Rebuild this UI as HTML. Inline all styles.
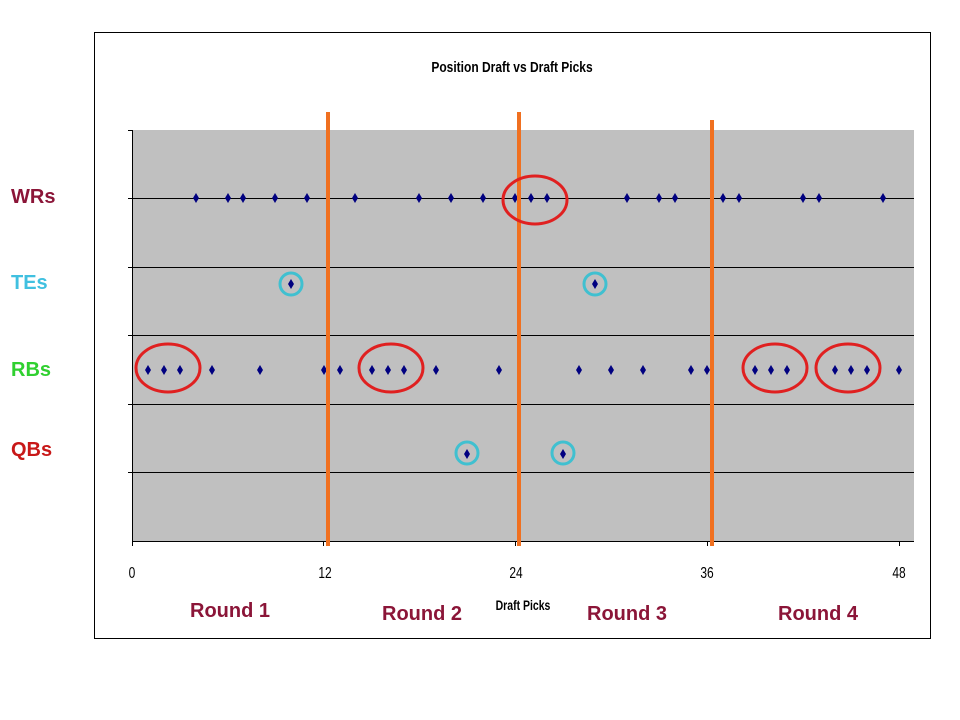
<!DOCTYPE html>
<html><head><style>body{margin:0;background:#fff}svg{display:block}</style></head><body>
<svg width="960" height="720" xmlns="http://www.w3.org/2000/svg" font-family="Liberation Sans, sans-serif">
<rect x="94.5" y="32.5" width="836" height="606" fill="#fff" stroke="#000" stroke-width="1"/>
<text x="512" y="72" text-anchor="middle" font-size="15" font-weight="bold" transform="translate(512 0) scale(0.8 1) translate(-512 0)">Position Draft vs Draft Picks</text>
<rect x="132" y="130" width="782" height="411" fill="#c0c0c0"/>
<g stroke="#000" stroke-width="1">
<line x1="132.5" y1="130" x2="132.5" y2="541"/>
<line x1="128" y1="130.5" x2="132" y2="130.5"/>
<line x1="128" y1="198.5" x2="914" y2="198.5"/>
<line x1="128" y1="267.5" x2="914" y2="267.5"/>
<line x1="128" y1="335.5" x2="914" y2="335.5"/>
<line x1="128" y1="404.5" x2="914" y2="404.5"/>
<line x1="128" y1="472.5" x2="914" y2="472.5"/>
<line x1="132" y1="541.5" x2="914" y2="541.5"/>
<line x1="132.5" y1="541" x2="132.5" y2="546"/>
<line x1="323.5" y1="541" x2="323.5" y2="546"/>
<line x1="515.5" y1="541" x2="515.5" y2="546"/>
<line x1="707.5" y1="541" x2="707.5" y2="546"/>
<line x1="899.5" y1="541" x2="899.5" y2="546"/>
</g>
<g font-size="16" text-anchor="middle">
<text transform="translate(132 578) scale(0.75 1)">0</text><text transform="translate(325 578) scale(0.75 1)">12</text><text transform="translate(516 578) scale(0.75 1)">24</text><text transform="translate(707 578) scale(0.75 1)">36</text><text transform="translate(899 578) scale(0.75 1)">48</text>
</g>
<text x="523" y="610" text-anchor="middle" font-size="14" font-weight="bold" transform="translate(523 0) scale(0.75 1) translate(-523 0)">Draft Picks</text>
<g fill="#000080">
<g transform="translate(0 198)">
<path d="M0,-5 L3,0 L0,5 L-3,0Z" transform="translate(196 0)"/>
<path d="M0,-5 L3,0 L0,5 L-3,0Z" transform="translate(228 0)"/><path d="M0,-5 L3,0 L0,5 L-3,0Z" transform="translate(243 0)"/><path d="M0,-5 L3,0 L0,5 L-3,0Z" transform="translate(275 0)"/><path d="M0,-5 L3,0 L0,5 L-3,0Z" transform="translate(307 0)"/><path d="M0,-5 L3,0 L0,5 L-3,0Z" transform="translate(355 0)"/><path d="M0,-5 L3,0 L0,5 L-3,0Z" transform="translate(419 0)"/><path d="M0,-5 L3,0 L0,5 L-3,0Z" transform="translate(451 0)"/><path d="M0,-5 L3,0 L0,5 L-3,0Z" transform="translate(483 0)"/><path d="M0,-5 L3,0 L0,5 L-3,0Z" transform="translate(515 0)"/><path d="M0,-5 L3,0 L0,5 L-3,0Z" transform="translate(531 0)"/><path d="M0,-5 L3,0 L0,5 L-3,0Z" transform="translate(547 0)"/><path d="M0,-5 L3,0 L0,5 L-3,0Z" transform="translate(627 0)"/><path d="M0,-5 L3,0 L0,5 L-3,0Z" transform="translate(659 0)"/><path d="M0,-5 L3,0 L0,5 L-3,0Z" transform="translate(675 0)"/><path d="M0,-5 L3,0 L0,5 L-3,0Z" transform="translate(723 0)"/><path d="M0,-5 L3,0 L0,5 L-3,0Z" transform="translate(739 0)"/><path d="M0,-5 L3,0 L0,5 L-3,0Z" transform="translate(803 0)"/><path d="M0,-5 L3,0 L0,5 L-3,0Z" transform="translate(819 0)"/><path d="M0,-5 L3,0 L0,5 L-3,0Z" transform="translate(883 0)"/>
</g>
<g transform="translate(0 284)">
<path d="M0,-5 L3,0 L0,5 L-3,0Z" transform="translate(291 0)"/><path d="M0,-5 L3,0 L0,5 L-3,0Z" transform="translate(595 0)"/>
</g>
<g transform="translate(0 370)">
<path d="M0,-5 L3,0 L0,5 L-3,0Z" transform="translate(148 0)"/><path d="M0,-5 L3,0 L0,5 L-3,0Z" transform="translate(164 0)"/><path d="M0,-5 L3,0 L0,5 L-3,0Z" transform="translate(180 0)"/><path d="M0,-5 L3,0 L0,5 L-3,0Z" transform="translate(212 0)"/><path d="M0,-5 L3,0 L0,5 L-3,0Z" transform="translate(260 0)"/><path d="M0,-5 L3,0 L0,5 L-3,0Z" transform="translate(324 0)"/><path d="M0,-5 L3,0 L0,5 L-3,0Z" transform="translate(340 0)"/><path d="M0,-5 L3,0 L0,5 L-3,0Z" transform="translate(372 0)"/><path d="M0,-5 L3,0 L0,5 L-3,0Z" transform="translate(388 0)"/><path d="M0,-5 L3,0 L0,5 L-3,0Z" transform="translate(404 0)"/><path d="M0,-5 L3,0 L0,5 L-3,0Z" transform="translate(436 0)"/><path d="M0,-5 L3,0 L0,5 L-3,0Z" transform="translate(499 0)"/><path d="M0,-5 L3,0 L0,5 L-3,0Z" transform="translate(579 0)"/><path d="M0,-5 L3,0 L0,5 L-3,0Z" transform="translate(611 0)"/><path d="M0,-5 L3,0 L0,5 L-3,0Z" transform="translate(643 0)"/><path d="M0,-5 L3,0 L0,5 L-3,0Z" transform="translate(691 0)"/><path d="M0,-5 L3,0 L0,5 L-3,0Z" transform="translate(707 0)"/><path d="M0,-5 L3,0 L0,5 L-3,0Z" transform="translate(755 0)"/><path d="M0,-5 L3,0 L0,5 L-3,0Z" transform="translate(771 0)"/><path d="M0,-5 L3,0 L0,5 L-3,0Z" transform="translate(787 0)"/><path d="M0,-5 L3,0 L0,5 L-3,0Z" transform="translate(835 0)"/><path d="M0,-5 L3,0 L0,5 L-3,0Z" transform="translate(851 0)"/><path d="M0,-5 L3,0 L0,5 L-3,0Z" transform="translate(867 0)"/><path d="M0,-5 L3,0 L0,5 L-3,0Z" transform="translate(899 0)"/>
</g>
<g transform="translate(0 454)">
<path d="M0,-5 L3,0 L0,5 L-3,0Z" transform="translate(467 0)"/><path d="M0,-5 L3,0 L0,5 L-3,0Z" transform="translate(563 0)"/>
</g>
</g>
<g stroke="#f07020" stroke-width="4">
<line x1="328" y1="112" x2="328" y2="546"/>
<line x1="519" y1="112" x2="519" y2="546"/>
<line x1="712" y1="120" x2="712" y2="546"/>
</g>
<g fill="none" stroke="#e02020" stroke-width="3">
<ellipse cx="535" cy="200" rx="32" ry="24"/>
<ellipse cx="168" cy="368" rx="32" ry="24"/>
<ellipse cx="391" cy="368" rx="32" ry="24"/>
<ellipse cx="775" cy="368" rx="32" ry="24"/>
<ellipse cx="848" cy="368" rx="32" ry="24"/>
</g>
<g fill="none" stroke="#40c0d0" stroke-width="3">
<circle cx="291" cy="284" r="11"/><circle cx="595" cy="284" r="11"/>
<circle cx="467" cy="453" r="11"/><circle cx="563" cy="453" r="11"/>
</g>
<g font-size="20" font-weight="bold">
<text x="11" y="203" fill="#8b1538">WRs</text>
<text x="11" y="289" fill="#40c0e0">TEs</text>
<text x="11" y="376" fill="#30d030">RBs</text>
<text x="11" y="456" fill="#c81818">QBs</text>
</g>
<g font-size="20" font-weight="bold" fill="#8b1538" text-anchor="middle">
<text x="230" y="617">Round 1</text>
<text x="422" y="620">Round 2</text>
<text x="627" y="620">Round 3</text>
<text x="818" y="620">Round 4</text>
</g>
</svg>
</body></html>
